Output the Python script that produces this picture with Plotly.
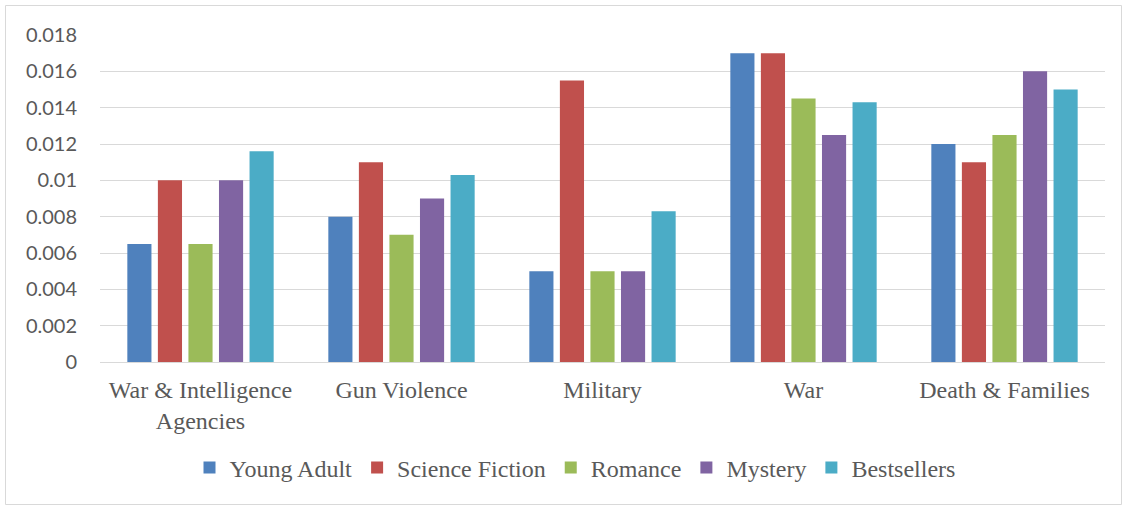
import plotly.graph_objects as go

categories = ["War & Intelligence<br>Agencies", "Gun Violence", "Military", "War", "Death & Families"]
series_names = ["Young Adult", "Science Fiction", "Romance", "Mystery", "Bestsellers"]
young_adult = [0.0065, 0.008, 0.005, 0.017, 0.012]
science_fiction = [0.010, 0.011, 0.0155, 0.017, 0.011]
romance = [0.0065, 0.007, 0.005, 0.0145, 0.0125]
mystery = [0.010, 0.009, 0.005, 0.0125, 0.016]
bestsellers = [0.0116, 0.0103, 0.0083, 0.0143, 0.015]
y_ticks = [0, 0.002, 0.004, 0.006, 0.008, 0.01, 0.012, 0.014, 0.016, 0.018]
y_tick_labels = ["0", "0.002", "0.004", "0.006", "0.008", "0.01", "0.012", "0.014", "0.016", "0.018"]

colors = ["#4F81BD", "#C0504D", "#9BBB59", "#8064A2", "#4BACC6"]
all_series = [young_adult, science_fiction, romance, mystery, bestsellers]

fig = go.Figure()
for name, vals, c in zip(series_names, all_series, colors):
    fig.add_trace(go.Bar(x=categories, y=vals, name=name, marker=dict(color=c, line=dict(width=0))))

L, R, T, B = 100, 19, 35, 144
W, H = 1124, 506
pw, ph = W - L - R, H - T - B

def px_x(p):
    return (p - L) / pw

def px_y(p):
    return (H - B - p) / ph

fig.update_layout(
    width=W, height=H,
    margin=dict(l=L, r=R, t=T, b=B),
    paper_bgcolor="white", plot_bgcolor="white",
    barmode="group", bargap=0.24, bargroupgap=0.21,
    font=dict(family="Liberation Serif", color="#595959"),
    legend=dict(orientation="h", x=px_x(575), xanchor="center", y=px_y(468), yanchor="middle",
                font=dict(family="Liberation Serif", size=24, color="#595959"),
                itemwidth=30, traceorder="normal"),
    xaxis=dict(showgrid=False, showline=True, linecolor="#D9D9D9", linewidth=1,
               tickfont=dict(family="Liberation Serif", size=24, color="#595959"),
               ticks="", ticklabelstandoff=6),
    yaxis=dict(range=[0, 0.018], tickvals=y_ticks, ticktext=y_tick_labels,
               showgrid=True, gridcolor="#D9D9D9", gridwidth=1, zeroline=False,
               tickfont=dict(family="Lato", size=20, color="#595959"),
               ticks="", ticklabelstandoff=22),
    shapes=[dict(type="rect", xref="paper", yref="paper",
                 x0=px_x(5.5), x1=px_x(1121.5), y0=px_y(504.5), y1=px_y(5.5),
                 line=dict(color="#D9D9D9", width=1), fillcolor="rgba(0,0,0,0)", layer="below")],
)

fig.write_html("out.html")
